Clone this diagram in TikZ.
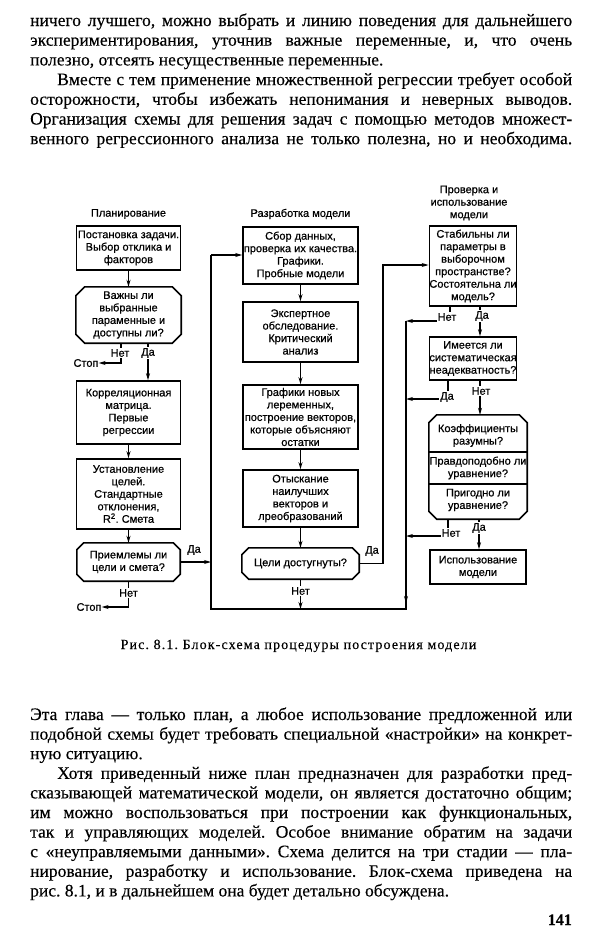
\documentclass[tikz,border=0pt]{standalone}
\usepackage{fontspec}
\setmainfont[FakeBold=0.3]{Liberation Serif}
\newfontfamily\diagsans[FakeBold=0.6]{Liberation Sans}
\newfontfamily\capserif[LetterSpace=8,FakeBold=0.2]{Liberation Serif}
\usetikzlibrary{arrows.meta}
\newcommand\drawocta[2]{\draw[boxline] ([xshift=#2pt]#1.north west) -- ([xshift=-#2pt]#1.north east) -- ([yshift=-#2pt]#1.north east) -- ([yshift=#2pt]#1.south east) -- ([xshift=-#2pt]#1.south east) -- ([xshift=#2pt]#1.south west) -- ([yshift=#2pt]#1.south west) -- ([yshift=-#2pt]#1.north west) -- cycle;}
\frenchspacing
\begin{document}
\begin{tikzpicture}[x=1pt,y=-1pt,
 body/.style={anchor=base west, inner sep=0pt, font=\fontsize{17.5}{19.6}\selectfont},
 dfont/.style={font=\diagsans\fontsize{11}{12.5}\selectfont},
 box/.style={dfont, draw, line width=1.6pt, inner sep=0pt, align=center},
 obox/.style={dfont, inner sep=0pt, align=center},
 dtxt/.style={dfont, inner sep=0pt, align=center},
 lab/.style={dfont, fill=white, inner sep=1pt},
 arr/.style={line width=1.1pt, -{Stealth[length=7pt,width=4pt]}},
 ln/.style={line width=1.1pt},
 boxline/.style={line width=1.6pt, line join=miter}]
\fill[white] (0,0) rectangle (600,927);
\useasboundingbox (0,0) rectangle (600,927);

% ---------- top text ----------
\node[body] (t1) at (30,26) {\makebox[542pt][s]{ничего лучшего, можно выбрать и линию поведения для дальнейшего}};
\node[body] (t2) at (30,45.7) {\makebox[542pt][s]{экспериментирования, уточнив важные переменные, и, что очень}};
\node[body] (t3) at (30,65.4) {полезно, отсеять несущественные переменные.};
\node[body] (t4) at (57,85.1) {\makebox[515pt][s]{Вместе с тем применение множественной регрессии требует особой}};
\node[body] (t5) at (30,104.8) {\makebox[542pt][s]{осторожности, чтобы избежать непонимания и неверных выводов.}};
\node[body] (t6) at (30,124.5) {\makebox[542pt][s]{Организация схемы для решения задач с помощью методов множест-}};
\node[body] (t7) at (30,144.2) {\makebox[542pt][s]{венного регрессионного анализа не только полезна, но и необходима.}};

% ---------- column titles ----------
\node[dtxt] (h1) at (128.5,214) {Планирование};
\node[dtxt] (h2) at (300.5,214) {Разработка модели};
\node[dtxt] (h3) at (469,203) {Проверка и\\использование\\модели};

% ---------- left column ----------
\node[box, minimum width=104, minimum height=44] (L1) at (128.5,248) {Постановка задачи.\\Выбор отклика и\\факторов};
\node[obox, minimum width=105, minimum height=56] (L2) at (128.5,315) {Важны ли\\выбранные\\параменные и\\доступны ли?};
\drawocta{L2}{9}
\node[box, minimum width=104, minimum height=63] (L3) at (128.5,412.5) {Корреляционная\\матрица.\\Первые\\регрессии};
\node[box, minimum width=104, minimum height=70] (L4) at (128.5,494) {Установление\\целей.\\Стандартные\\отклонения,\\R\textsuperscript{2}. Смета};
\node[obox, minimum width=103, minimum height=38] (L5) at (128.5,562) {Приемлемы ли\\цели и смета?};
\drawocta{L5}{7}
\node[dtxt] (stop1) at (86,363) {Стоп};
\node[dtxt] (stop2) at (89,607) {Стоп};

% ---------- middle column ----------
\node[box, minimum width=115, minimum height=57] (M1) at (300.5,255.5) {Сбор данных,\\проверка их качества.\\Графики.\\Пробные модели};
\node[box, minimum width=115, minimum height=60] (M2) at (300.5,332) {Экспертное\\обследование.\\Критический\\анализ};
\node[box, minimum width=115, minimum height=64] (M3) at (300.5,417) {Графики новых\\леременных,\\построение векторов,\\которые объясняют\\остатки};
\node[box, minimum width=115, minimum height=57] (M4) at (300.5,498.5) {Отыскание\\наилучших\\векторов и\\лреобразований};
\node[obox, minimum width=117, minimum height=31] (M5) at (300.5,563.5) {Цели достугнуты?};
\drawocta{M5}{7}

% ---------- right column ----------
\node[box, minimum width=86, minimum height=80] (R1) at (473,266) {Стабильны ли\\параметры в\\выборочном\\пространстве?\\Состоятельна ли\\модель?};
\node[box, minimum width=86, minimum height=43] (R2) at (473,358.5) {Имеется ли\\систематическая\\неадекватность?};
\node[obox, minimum width=98, minimum height=104] (R3) at (478,467) {};
\drawocta{R3}{8}
\node[dtxt] (R3a) at (478,435.5) {Коэффициенты\\разумны?};
\node[dtxt] (R3b) at (478,468) {Правдоподобно ли\\уравнение?};
\node[dtxt] (R3c) at (478,500) {Пригодно ли\\уравнение?};
\coordinate (dv1) at (0,452);
\coordinate (dv2) at (0,484);
\draw[boxline] (R3.west |- dv1) -- (R3.east |- dv1);
\draw[boxline] (R3.west |- dv2) -- (R3.east |- dv2);
\node[box, minimum width=96, minimum height=34] (R4) at (478,567) {Использование\\модели};

% ---------- helper coordinates ----------
\coordinate (l2net) at (121,0);
\coordinate (l2da) at (148,0);
\coordinate (lbot) at (211,609);
\coordinate (ltop) at (211,255);
\coordinate (mr) at (383,0);
\coordinate (r1in) at (0,265);
\coordinate (rtop) at (406,321);
\coordinate (rarr) at (406,603);
\coordinate (rarr2) at (406,598);
\coordinate (rbot) at (406,609);
\coordinate (rnet) at (450,0);
\coordinate (rda) at (480,0);
\coordinate (r2da) at (448,0);
\coordinate (r2y) at (406,399);
\coordinate (r3y) at (406,536);
\coordinate (r3da) at (479,0);

% ---------- connectors ----------
\draw[arr] (L1.south) -- (L2.north);
\draw[arr] (L2.south -| l2da) -- (L3.north -| l2da);
\draw[arr] (L2.south -| l2net) -- (l2net |- stop1) -- (stop1.east);
\draw[arr] (L3.south) -- (L4.north);
\draw[arr] (L4.south) -- (L5.north);
\draw[arr] (L5.south) -- (L5.south |- stop2) -- (stop2.east);
\draw[arr] (L5.east) -- (L5.east -| lbot);

\draw[arr] (M1.south) -- (M2.north);
\draw[arr] (M2.south) -- (M3.north);
\draw[arr] (M3.south) -- (M4.north);
\draw[arr] (M4.south) -- (M5.north);
\draw[arr] (M5.south) -- (M5.south |- lbot);
\draw[arr] (M5.east) -- (M5.east -| mr) -- (mr |- r1in) -- (R1.west |- r1in);

\draw[arr] (R1.south -| rda) -- (R2.north -| rda);
\draw[arr] (R1.south -| rnet) -- (rnet |- rtop) -- (rtop);
\draw[arr] (R2.south -| r2da) -- (r2da |- r2y) -- (r2y);
\draw[arr] (R2.south -| rda) -- (R3.north -| rda);
\draw[arr] (R3.south -| r2da) -- (r2da |- r3y) -- (r3y);
\draw[arr] (R3.south -| r3da) -- (R4.north -| r3da);

\draw[arr] (rtop) -- (rarr);
\draw[ln] (rarr2) -- (rbot) -- (lbot) -- (ltop);
\draw[arr] (ltop) -- (M1.west |- ltop);

% ---------- labels ----------
\node[lab] (a1) at (120,353) {Нет};
\node[lab] (a2) at (148,353) {Да};
\node[lab] (a3) at (128.5,593) {Нет};
\node[dtxt] (a4) at (194,550) {Да};
\node[dtxt] (a5) at (372,551) {Да};
\node[lab] (a6) at (300.5,591) {Нет};
\node[lab] (a7) at (447,317) {Нет};
\node[lab] (a8) at (482,316) {Да};
\node[lab] (a9) at (447,397) {Да};
\node[lab] (a10) at (481,391) {Нет};
\node[lab] (a11) at (451,533) {Нет};
\node[lab] (a12) at (479,528) {Да};

% ---------- caption ----------
\node[anchor=base, inner sep=0pt, font=\capserif\fontsize{14}{16}\selectfont] (cap) at (298.5,649) {Рис. 8.1. Блок-схема процедуры построения модели};

% ---------- bottom text ----------
\node[body] (b1) at (30,720) {\makebox[542pt][s]{Эта глава — только план, а любое использование предложенной или}};
\node[body] (b2) at (30,739.6) {\makebox[542pt][s]{подобной схемы будет требовать специальной «настройки» на конкрет-}};
\node[body] (b3) at (30,759.2) {ную ситуацию.};
\node[body] (b4) at (57,778.8) {\makebox[515pt][s]{Хотя приведенный ниже план предназначен для разработки пред-}};
\node[body] (b5) at (30,798.4) {\makebox[542pt][s]{сказывающей математической модели, он является достаточно общим;}};
\node[body] (b6) at (30,818) {\makebox[542pt][s]{им можно воспользоваться при построении как функциональных,}};
\node[body] (b7) at (30,837.6) {\makebox[542pt][s]{так и управляющих моделей. Особое внимание обратим на задачи}};
\node[body] (b8) at (30,857.2) {\makebox[542pt][s]{с «неуправляемыми данными». Схема делится на три стадии — пла-}};
\node[body] (b9) at (30,876.8) {\makebox[542pt][s]{нирование, разработку и использование. Блок-схема приведена на}};
\node[body] (b10) at (30,896.4) {рис. 8.1, и в дальнейшем она будет детально обсуждена.};
\node[anchor=base east, inner sep=0pt, font=\bfseries\fontsize{16}{18}\selectfont] (pg) at (572,925) {141};
\end{tikzpicture}
\end{document}
